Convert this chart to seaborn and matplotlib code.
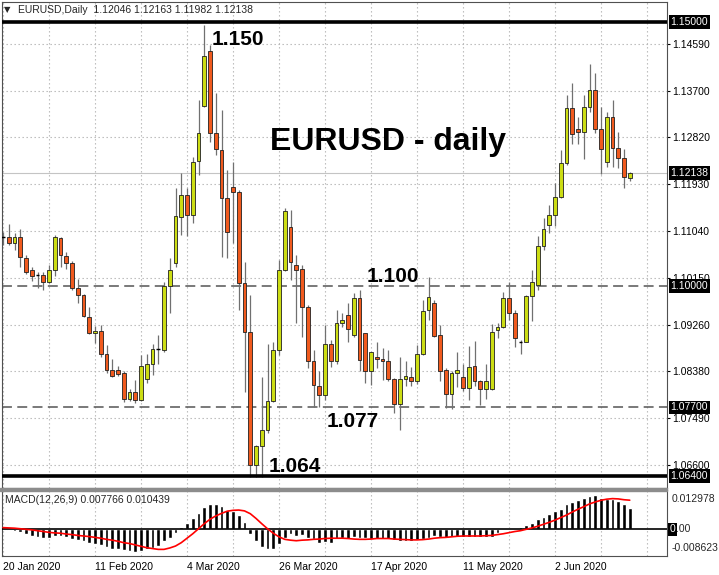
import matplotlib
matplotlib.use("Agg")
import matplotlib.pyplot as plt
import matplotlib.transforms as mtrans
from matplotlib.patches import Rectangle
import numpy as np
import pandas as pd
import seaborn as sns

# ---------------- data ----------------
opens = [1.1093, 1.1093, 1.1081, 1.1092, 1.1053, 1.1030, 1.1021, 1.1021, 1.1008, 1.1030,
         1.1090, 1.1057, 1.1044, 1.0997, 1.0983, 1.0942, 1.0911, 1.0915, 1.0871, 1.0841,
         1.0841, 1.0835, 1.0786, 1.0799, 1.0784, 1.0824, 1.0852, 1.0880, 1.0879, 1.0999,
         1.1044, 1.1131, 1.1172, 1.1134, 1.1237, 1.1341, 1.1444, 1.1290, 1.1258, 1.1166,
         1.1187, 1.1177, 1.1005, 1.0913, 1.0661, 1.0697, 1.0727, 1.0783, 1.0879, 1.1030,
         1.1112, 1.1040, 1.1032, 1.0961, 1.0857, 1.0811, 1.0793, 1.0890, 1.0857, 1.0929,
         1.0945, 1.0907, 1.0978, 1.0911, 1.0839, 1.0865, 1.0862, 1.0857, 1.0824, 1.0776,
         1.0823, 1.0828, 1.0820, 1.0872, 1.0954, 1.0967, 1.0907, 1.0841, 1.0795, 1.0836,
         1.0827, 1.0806, 1.0848, 1.0820, 1.0804, 1.0804, 1.0916, 1.0922, 1.0977, 1.0948,
         1.0894, 1.0894, 1.0981, 1.1001, 1.1076, 1.1115, 1.1134, 1.1168, 1.1232, 1.1336,
         1.1297, 1.1292, 1.1338, 1.1371, 1.1297, 1.1234, 1.1320, 1.1262, 1.1242, 1.12046]
highs = [1.1102, 1.1117, 1.1100, 1.1107, 1.1059, 1.1036, 1.1026, 1.1026, 1.1040, 1.1096,
         1.1093, 1.1064, 1.1048, 1.1013, 1.0985, 1.0960, 1.0924, 1.0926, 1.0889, 1.0861,
         1.0849, 1.0838, 1.0805, 1.0822, 1.0869, 1.0871, 1.0890, 1.0907, 1.1008, 1.1052,
         1.1185, 1.1213, 1.1185, 1.1245, 1.1353, 1.1494, 1.1456, 1.1365, 1.1333, 1.1220,
         1.1235, 1.1182, 1.1046, 1.0983, 1.0698, 1.0828, 1.0890, 1.0894, 1.1049, 1.1147,
         1.1144, 1.1059, 1.1040, 1.0964, 1.0879, 1.0838, 1.0926, 1.0898, 1.0954, 1.0949,
         1.0967, 1.0986, 1.0992, 1.0911, 1.0875, 1.0894, 1.0882, 1.0879, 1.0825, 1.0866,
         1.0857, 1.0847, 1.0888, 1.0973, 1.1017, 1.0973, 1.0926, 1.0844, 1.0838, 1.0875,
         1.0852, 1.0886, 1.0896, 1.0822, 1.0852, 1.0928, 1.0929, 1.0989, 1.1008, 1.0954,
         1.0898, 1.0983, 1.1030, 1.1094, 1.1128, 1.1153, 1.1194, 1.1257, 1.1362, 1.1384,
         1.1320, 1.1362, 1.1420, 1.1403, 1.1339, 1.1330, 1.1352, 1.1292, 1.1259, 1.12163]
lows = [1.1077, 1.1077, 1.1068, 1.1036, 1.1022, 1.1009, 1.0997, 1.0992, 1.1006, 1.1018,
        1.1035, 1.1032, 1.0992, 1.0967, 1.0942, 1.0909, 1.0891, 1.0866, 1.0835, 1.0828,
        1.0830, 1.0781, 1.0783, 1.0778, 1.0782, 1.0816, 1.0831, 1.0853, 1.0875, 1.0949,
        1.1036, 1.1096, 1.1094, 1.1119, 1.1210, 1.1338, 1.1273, 1.1248, 1.1055, 1.1052,
        1.1081, 1.0954, 1.0799, 1.0639, 1.0639, 1.0639, 1.0722, 1.0780, 1.0869, 1.1028,
        1.1011, 1.0929, 1.0903, 1.0844, 1.0771, 1.0771, 1.0784, 1.0847, 1.0853, 1.0923,
        1.0894, 1.0903, 1.0838, 1.0817, 1.0812, 1.0844, 1.0822, 1.0820, 1.0759, 1.0727,
        1.0811, 1.0811, 1.0815, 1.0869, 1.0935, 1.0903, 1.0820, 1.0768, 1.0767, 1.0809,
        1.0801, 1.0784, 1.0811, 1.0775, 1.0786, 1.0802, 1.0902, 1.0920, 1.0935, 1.0885,
        1.0871, 1.0893, 1.0934, 1.0992, 1.1068, 1.1101, 1.1113, 1.1166, 1.1229, 1.1269,
        1.1269, 1.1240, 1.1330, 1.1289, 1.1212, 1.1226, 1.1226, 1.1223, 1.1185, 1.11982]
closes = [1.1093, 1.1081, 1.1092, 1.1054, 1.1026, 1.1019, 1.1021, 1.1008, 1.1030, 1.1093,
          1.1059, 1.1044, 1.0997, 1.0983, 1.0943, 1.0911, 1.0915, 1.0872, 1.0841, 1.0830,
          1.0833, 1.0786, 1.0799, 1.0784, 1.0848, 1.0852, 1.0880, 1.0880, 1.0999, 1.1030,
          1.1132, 1.1172, 1.1134, 1.1235, 1.1289, 1.1435, 1.1290, 1.1259, 1.1166, 1.1102,
          1.1178, 1.1005, 1.0913, 1.0661, 1.0696, 1.0727, 1.0783, 1.0879, 1.1030, 1.1142,
          1.1046, 1.1030, 1.0961, 1.0857, 1.0812, 1.0793, 1.0890, 1.0857, 1.0929, 1.0935,
          1.0918, 1.0978, 1.0860, 1.0839, 1.0874, 1.0861, 1.0857, 1.0824, 1.0776, 1.0824,
          1.0829, 1.0820, 1.0872, 1.0953, 1.0979, 1.0905, 1.0838, 1.0795, 1.0835, 1.0840,
          1.0806, 1.0847, 1.0820, 1.0804, 1.0820, 1.0912, 1.0922, 1.0977, 1.0948, 1.0902,
          1.0894, 1.0981, 1.1007, 1.1076, 1.1107, 1.1134, 1.1168, 1.1232, 1.1336, 1.1288,
          1.1292, 1.1338, 1.1371, 1.1297, 1.1259, 1.1320, 1.1262, 1.1242, 1.1206, 1.12138]

macd_main = [-0.0001, -0.0004, -0.0006, -0.0010, -0.0016, -0.0024, -0.0027, -0.0030, -0.0030, -0.0024,
             -0.0024, -0.0027, -0.0033, -0.0038, -0.0042, -0.0048, -0.0051, -0.0057, -0.0063, -0.0069,
             -0.0072, -0.0076, -0.0079, -0.0081, -0.0078, -0.0072, -0.0066, -0.0060, -0.0042, -0.0030,
             -0.0012, 0.0010, 0.0024, 0.0039, 0.0060, 0.0081, 0.0090, 0.0090, 0.0084, 0.0069,
             0.0066, 0.0050, 0.0026, -0.0016, -0.0042, -0.0063, -0.0069, -0.0069, -0.0054, -0.0030,
             -0.0018, -0.0024, -0.0022, -0.0030, -0.0036, -0.0048, -0.0045, -0.0048, -0.0036, -0.0032,
             -0.0033, -0.0027, -0.0030, -0.0032, -0.0033, -0.0036, -0.0036, -0.0036, -0.0038, -0.0042,
             -0.0042, -0.0042, -0.0038, -0.0033, -0.0030, -0.0024, -0.0026, -0.0030, -0.0026, -0.0026,
             -0.0027, -0.0027, -0.0027, -0.0027, -0.0027, -0.0026, -0.0012, 0.0004, 0.0006, 0.0006,
             0.0010, 0.0014, 0.0022, 0.0036, 0.0045, 0.0054, 0.0066, 0.0074, 0.0090, 0.0098,
             0.0105, 0.0114, 0.0121, 0.0124, 0.0114, 0.0110, 0.0108, 0.0102, 0.0090, 0.007766]
macd_signal = [0.0006, 0.0005, 0.0004, 0.0002, 0.0000, -0.0002, -0.0005, -0.0008, -0.0011, -0.0013,
               -0.0014, -0.0017, -0.0019, -0.0022, -0.0024, -0.0026, -0.0029, -0.0032, -0.0036, -0.0039,
               -0.0043, -0.0048, -0.0051, -0.0056, -0.0061, -0.0066, -0.0069, -0.0072, -0.0072, -0.0067,
               -0.0060, -0.0048, -0.0032, -0.0016, 0.0002, 0.0020, 0.0036, 0.0048, 0.0057, 0.0065,
               0.0068, 0.0069, 0.0066, 0.0056, 0.0039, 0.0020, 0.0002, -0.0014, -0.0027, -0.0036,
               -0.0039, -0.0041, -0.0039, -0.0038, -0.0036, -0.0035, -0.0033, -0.0032, -0.0032, -0.0032,
               -0.0033, -0.0035, -0.0036, -0.0036, -0.0035, -0.0033, -0.0033, -0.0033, -0.0035, -0.0036,
               -0.0037, -0.0038, -0.0038, -0.0037, -0.0035, -0.0032, -0.0030, -0.0029, -0.0027, -0.0025,
               -0.0024, -0.0024, -0.0024, -0.0024, -0.0023, -0.0022, -0.0019, -0.0016, -0.0012, -0.0008,
               -0.0005, 0.0000, 0.0005, 0.0011, 0.0018, 0.0025, 0.0033, 0.0042, 0.0051, 0.0062,
               0.0072, 0.0081, 0.0091, 0.0098, 0.0104, 0.0108, 0.0110, 0.0109, 0.0106, 0.010439]

date_label_bars = [0, 16, 32, 48, 64, 80, 96]
date_labels = ["20 Jan 2020", "11 Feb 2020", "4 Mar 2020", "26 Mar 2020",
               "17 Apr 2020", "11 May 2020", "2 Jun 2020"]
price_ticks = [1.06600, 1.07490, 1.08380, 1.09260, 1.10150,
               1.11040, 1.11930, 1.12820, 1.13700, 1.14590]
solid_levels = [1.15000, 1.06400]
dashed_levels = [1.10000, 1.07700]
last_price = 1.12138
macd_max_label, macd_min_label = 0.012978, -0.008623
header_text = "EURUSD,Daily  1.12046 1.12163 1.11982 1.12138"
macd_title = "MACD(12,26,9) 0.007766 0.010439"
# (text, bar position, baseline price, font size)
annotations = [("1.150", 36.3, 1.14562, 15),
               ("EURUSD - daily", 46.4, 1.12574, 23),
               ("1.100", 63.3, 1.10074, 15),
               ("1.077", 56.35, 1.07329, 15),
               ("1.064", 46.26, 1.06477, 15)]

# ---------------- style ----------------
sns.set_style("white")
plt.rcParams['font.family'] = ['Liberation Sans', 'DejaVu Sans']

BULL = '#CCDD14'
BEAR = '#F05A1E'
GRID = '#b4b4b4'

W, H = 719, 575
fig = plt.figure(figsize=(W / 100, H / 100), dpi=100)
fig.patch.set_facecolor('white')


def frame(x0, y0, x1, y1):
    return [x0 / W, 1 - y1 / H, (x1 - x0) / W, (y1 - y0) / H]


BAR_PX, X0_PX = 5.75, 3.0


def bar_at(px):
    return (px - X0_PX) / BAR_PX


PX_PER_PRICE, REF_PRICE, REF_Y = 5281.0, 1.1193, 184.0
TOP_Y, SEP_Y, MACD_TOP, MACD_BOT, RIGHT_X = 2, 488, 490, 556, 667

ax = fig.add_axes(frame(2, TOP_Y, RIGHT_X, SEP_Y))
axm = fig.add_axes(frame(2, MACD_TOP, RIGHT_X, MACD_BOT))

df = pd.DataFrame({'open': opens, 'high': highs, 'low': lows, 'close': closes})
df['bar'] = np.arange(len(df))
up = df[df.close > df.open]
dn = df[df.close < df.open]
dj = df[df.close == df.open]

xlim = (bar_at(2), bar_at(RIGHT_X))
for a in (ax, axm):
    a.set_xlim(*xlim)
    a.set_facecolor('white')
    for s in a.spines.values():
        s.set_color('#505050')
        s.set_linewidth(0.8)
    for b in range(0, 116, 8):
        a.axvline(b, color=GRID, lw=0.8, ls=(0, (1.2, 2.4)), zorder=0)

ax.set_ylim(REF_PRICE - (SEP_Y - REF_Y) / PX_PER_PRICE,
            REF_PRICE + (REF_Y - TOP_Y) / PX_PER_PRICE)
for p in price_ticks:
    ax.axhline(p, color=GRID, lw=0.8, ls=(0, (1.2, 2.4)), zorder=0)

# horizontal levels
for lv in solid_levels:
    ax.axhline(lv, color='black', lw=2.6, zorder=4)
for lv in dashed_levels:
    ax.axhline(lv, color='#555555', lw=1.1, ls=(0, (6.5, 3.5)), zorder=1)
ax.axhline(last_price, color='#c4c4c4', lw=0.8, zorder=1)

# candles
ax.vlines(df.bar, df.low, df.high, color='#707070', lw=0.9, zorder=2)
ax.bar(up.bar, up.close - up.open, bottom=up.open, width=0.62, color=BULL,
       edgecolor='#202020', linewidth=0.6, zorder=3)
ax.bar(dn.bar, dn.open - dn.close, bottom=dn.close, width=0.62, color=BEAR,
       edgecolor='#202020', linewidth=0.6, zorder=3)
ax.hlines(dj.close, dj.bar - 0.33, dj.bar + 0.33, color='black', lw=1.0, zorder=3)

# right price scale
ax.yaxis.tick_right()
ax.set_yticks(price_ticks)
ax.set_yticklabels([f"{p:.5f}" for p in price_ticks], fontsize=7.5)
ax.tick_params(axis='y', direction='out', length=2.2, width=0.8, pad=1.5, colors='black')
ax.set_xticks([])
box_levels = solid_levels + dashed_levels + [last_price]
for lv in box_levels:
    ax.text(bar_at(670.5), lv, f"{lv:.5f}", color='white', fontsize=7.5, va='center',
            ha='left', clip_on=False, zorder=10,
            bbox=dict(boxstyle='square,pad=0.18', fc='black', ec='none'))

# annotations
for txt, bx, py, fs in annotations:
    ax.text(bx, py, txt, fontsize=fs, fontweight='bold', color='black',
            ha='left', va='baseline', zorder=8)

# header
ax.text((4 - 2) / (RIGHT_X - 2), (SEP_Y - 10) / (SEP_Y - TOP_Y), "\u25bc",
        transform=ax.transAxes, fontsize=6, va='center', ha='left',
        family=['DejaVu Sans'], zorder=9)
ax.text((18 - 2) / (RIGHT_X - 2), (SEP_Y - 10) / (SEP_Y - TOP_Y), header_text,
        transform=ax.transAxes, fontsize=7.5, va='center', ha='left', zorder=9)

# ---------------- MACD panel ----------------
MACD_PX = 2789.0
ZERO_Y = 529.3
axm.set_ylim(-(MACD_BOT - ZERO_Y) / MACD_PX, (ZERO_Y - MACD_TOP) / MACD_PX)
axm.bar(df.bar, macd_main, width=0.68, color='black', zorder=2)
axm.axhline(0, color='black', lw=1.2, zorder=3)
sns.lineplot(x=df.bar, y=macd_signal, ax=axm, color='#ff0000', lw=1.2, zorder=4)
axm.set_xlim(*xlim)
axm.set_xlabel('')
axm.set_ylabel('')
axm.set_yticks([])
axm.set_xticks(date_label_bars)
axm.set_xticklabels(date_labels, fontsize=7.5)
for lbl in axm.get_xticklabels():
    lbl.set_ha('left')
axm.tick_params(axis='x', direction='out', length=2.5, width=0.8, pad=1.5, colors='black')

tr = mtrans.blended_transform_factory(axm.transData, axm.transAxes)
hgt = MACD_BOT - MACD_TOP
axm.text(bar_at(672), (MACD_BOT - 499) / hgt, f"{macd_max_label:.6f}", transform=tr,
         fontsize=7.5, va='center', ha='left', clip_on=False)
axm.text(bar_at(672), (MACD_BOT - 548) / hgt, f"{macd_min_label:.6f}", transform=tr,
         fontsize=7.5, va='center', ha='left', clip_on=False)
# zero level label: first digit inside a small black box, rest plain
axm.text(bar_at(669.5), 0, "0", fontsize=7.5, va='center', ha='left', clip_on=False,
         color='white', zorder=10,
         bbox=dict(boxstyle='square,pad=0.12', fc='black', ec='none'))
zero_rest_tr = mtrans.offset_copy(axm.transData, fig=fig, x=4.6, y=0, units='points')
axm.text(bar_at(669.5), 0, ".00", transform=zero_rest_tr, fontsize=7.5, va='center',
         ha='left', clip_on=False)
axm.text((5 - 2) / (RIGHT_X - 2), (MACD_BOT - 500) / hgt, macd_title, transform=axm.transAxes,
         fontsize=7.5, va='center', ha='left', zorder=9)

# panel separator
fig.add_artist(Rectangle((0, 1 - 491 / H), RIGHT_X / W, 3 / H, transform=fig.transFigure,
                         color='#8c8c8c', zorder=20))

fig.savefig('out.png', dpi=100, facecolor='white')
